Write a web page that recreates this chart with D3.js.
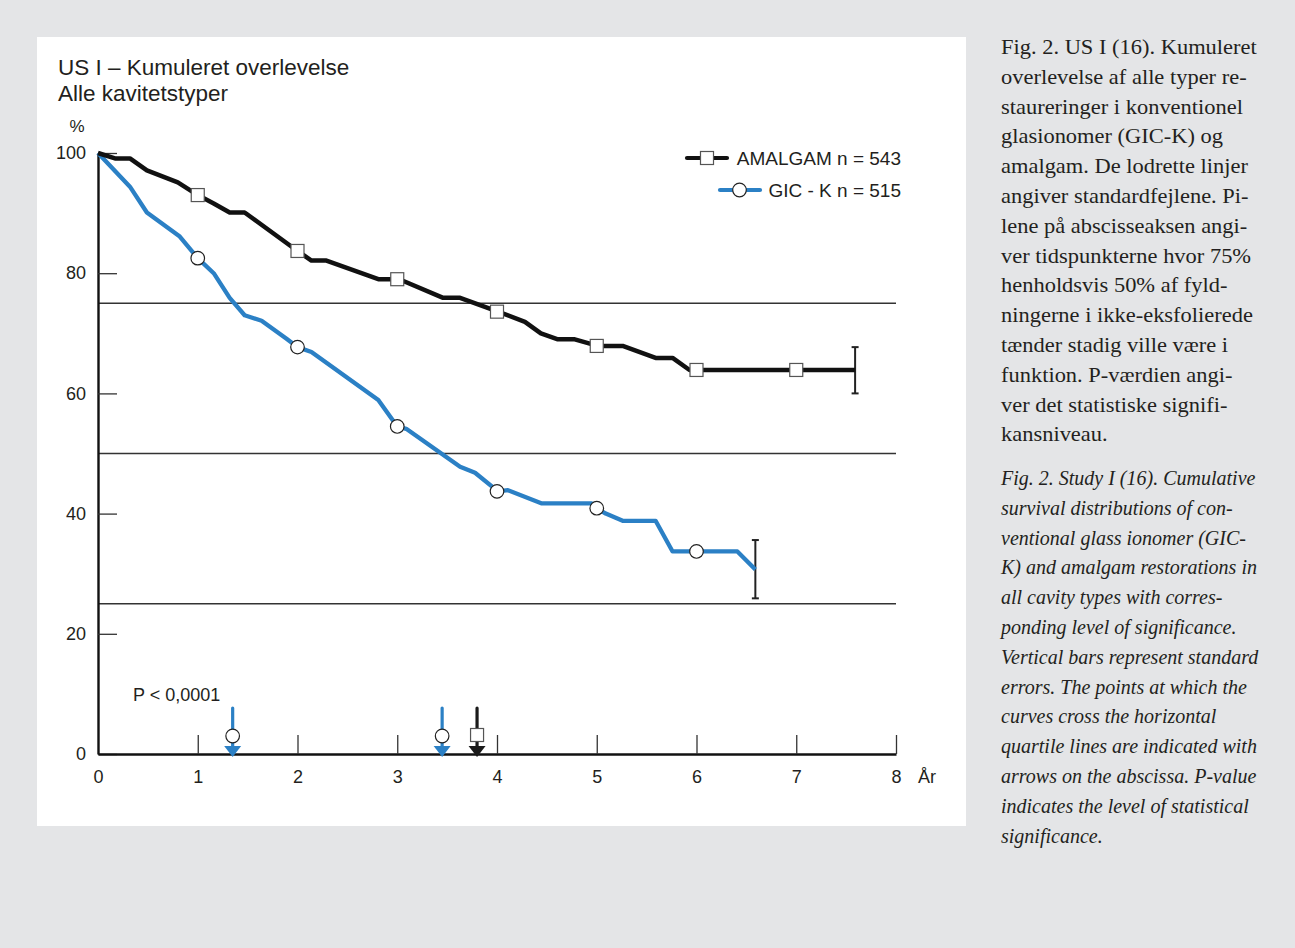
<!DOCTYPE html>
<html>
<head>
<meta charset="utf-8">
<script src="https://cdn.jsdelivr.net/npm/d3@7"></script>
<style>
  body { margin: 0; background: #e4e5e7; }
  svg { display: block; }
  .sans { font-family: "Liberation Sans", Arial, Helvetica, sans-serif; fill: #231f20; }
  .serif { font-family: "Liberation Serif", "Times New Roman", serif; fill: #231f20; }
</style>
</head>
<body>
<svg id="chart" width="1295" height="948"></svg>
<script>
// kaplan-meier style curves (years, % surviving)
var amalgamYears = [0, 0.17, 0.32, 0.49, 0.8, 1, 1.16, 1.32, 1.47, 2, 2.14, 2.29, 2.81, 3.02, 3.46, 3.63, 4.01, 4.28, 4.44, 4.61, 4.78, 5.01, 5.26, 5.59, 5.76, 5.93, 7.59];
var amalgamSurv  = [100, 99.1, 99.1, 97.1, 95.1, 93, 91.6, 90.1, 90.1, 83.7, 82.1, 82.1, 79, 79, 75.9, 75.9, 73.6, 71.9, 70, 69, 69, 67.9, 67.9, 65.9, 65.9, 63.9, 63.9];
var gicYears = [0, 0.32, 0.49, 0.82, 1, 1.16, 1.32, 1.47, 1.64, 1.89, 2, 2.14, 2.81, 3, 3.09, 3.63, 3.78, 4.01, 4.11, 4.45, 4.95, 5, 5.09, 5.26, 5.59, 5.76, 6, 6.41, 6.59];
var gicSurv  = [100, 94.4, 90.1, 86.1, 82.5, 80, 75.9, 73, 72.1, 69.1, 67.7, 66.9, 58.9, 54.5, 54.1, 47.8, 46.8, 43.7, 43.9, 41.7, 41.7, 40.9, 40, 38.8, 38.8, 33.7, 33.7, 33.7, 30.7];

var amalgamMarkYears = [1, 2, 3, 4, 5, 6, 7];
var amalgamMarkSurv  = [93, 83.7, 79, 73.6, 67.9, 63.9, 63.9];
var gicMarkYears = [1, 2, 3, 4, 5, 6];
var gicMarkSurv  = [82.5, 67.7, 54.5, 43.7, 40.9, 33.7];

// standard error bars at curve ends: [year, low, high]
var errorBars = [[7.59, 60.0, 67.7], [6.59, 25.9, 35.6]];
var quartileLines = [75, 50, 25];
// arrows on the abscissa where curves cross quartile lines
var arrowYears  = [1.35, 3.45, 3.80];
var arrowSeries = ["gic", "gic", "amalgam"];

var xTicks = [0, 1, 2, 3, 4, 5, 6, 7, 8];
var yTicks = [0, 20, 40, 60, 80, 100];

var legendLabels = ["AMALGAM n = 543", "GIC - K n = 515"];
var titleLines = ["US I \u2013 Kumuleret overlevelse", "Alle kavitetstyper"];

var captionDa = [
  "Fig. 2. US I (16). Kumuleret",
  "overlevelse af alle typer re-",
  "staureringer i konventionel",
  "glasionomer (GIC-K) og",
  "amalgam. De lodrette linjer",
  "angiver standardfejlene. Pi-",
  "lene p\u00e5 abscisseaksen angi-",
  "ver tidspunkterne hvor 75%",
  "henholdsvis 50% af fyld-",
  "ningerne i ikke-eksfolierede",
  "t\u00e6nder stadig ville v\u00e6re i",
  "funktion. P-v\u00e6rdien angi-",
  "ver det statistiske signifi-",
  "kansniveau."
];
var captionEn = [
  "Fig. 2. Study I (16). Cumulative",
  "survival distributions of con-",
  "ventional glass ionomer (GIC-",
  "K) and amalgam restorations in",
  "all cavity types with corres-",
  "ponding level of significance.",
  "Vertical bars represent standard",
  "errors. The points at which the",
  "curves cross the horizontal",
  "quartile lines are indicated with",
  "arrows on the abscissa. P-value",
  "indicates the level of statistical",
  "significance."
];

var blue = "#2b80c5";
var black = "#111";

var svg = d3.select("#chart");

// white chart panel
svg.append("rect")
    .attr("x", 37).attr("y", 37)
    .attr("width", 929).attr("height", 789)
    .attr("fill", "#fff");

var xScale = d3.scaleLinear().domain([0, 8]).range([98, 896]);
var yScale = d3.scaleLinear().domain([0, 100]).range([754, 153]);

// titles
svg.selectAll(".title")
    .data(titleLines)
    .enter()
    .append("text")
    .attr("class", "sans")
    .attr("x", 58)
    .attr("y", function (d, i) { return 75 + i * 26; })
    .attr("font-size", "22.5px")
    .text(function (d) { return d; });

svg.append("text")
    .attr("class", "sans")
    .attr("x", 77).attr("y", 132)
    .attr("text-anchor", "middle")
    .attr("font-size", "17px")
    .text("%");

// quartile reference lines
svg.selectAll(".quart")
    .data(quartileLines)
    .enter()
    .append("line")
    .attr("x1", xScale(0)).attr("x2", xScale(8))
    .attr("y1", function (d) { return yScale(d); })
    .attr("y2", function (d) { return yScale(d); })
    .attr("stroke", "#333")
    .attr("stroke-width", 1.3);

// axes
var yAxis = d3.axisLeft(yScale)
    .tickValues(yTicks)
    .tickSizeInner(-19)
    .tickSizeOuter(0)
    .tickPadding(12);
var gy = svg.append("g")
    .attr("transform", "translate(" + xScale(0) + ",0)")
    .call(yAxis);

var xAxis = d3.axisBottom(xScale)
    .tickValues(xTicks)
    .tickSizeInner(-19)
    .tickSizeOuter(0)
    .tickPadding(16);
var gx = svg.append("g")
    .attr("transform", "translate(0," + yScale(0) + ")")
    .call(xAxis);

[gx, gy].forEach(function (g) {
    g.attr("font-size", null).attr("font-family", null);
    g.select(".domain").attr("stroke", "#111").attr("stroke-width", 2.4);
    g.selectAll(".tick line").attr("stroke", "#333").attr("stroke-width", 1.3);
    g.selectAll(".tick text")
        .attr("class", "sans")
        .attr("fill", "#231f20")
        .style("font-size", "18px");
});
gx.selectAll(".tick").filter(function (d) { return d === 0; }).select("line").remove();

svg.append("text")
    .attr("class", "sans")
    .attr("x", 918).attr("y", 783)
    .attr("font-size", "18px")
    .text("\u00c5r");

// curves
var line = d3.line()
    .x(function (d) { return xScale(d[0]); })
    .y(function (d) { return yScale(d[1]); });

var amalgamData = amalgamYears.map(function (t, i) { return [t, amalgamSurv[i]]; });
var gicData = gicYears.map(function (t, i) { return [t, gicSurv[i]]; });

// error bars
var bars = svg.selectAll(".err")
    .data(errorBars)
    .enter()
    .append("g")
    .attr("stroke", "#222")
    .attr("stroke-width", 2);
bars.append("line")
    .attr("x1", function (d) { return xScale(d[0]); })
    .attr("x2", function (d) { return xScale(d[0]); })
    .attr("y1", function (d) { return yScale(d[1]); })
    .attr("y2", function (d) { return yScale(d[2]); });
bars.append("line")
    .attr("x1", function (d) { return xScale(d[0]) - 3.5; })
    .attr("x2", function (d) { return xScale(d[0]) + 3.5; })
    .attr("y1", function (d) { return yScale(d[1]); })
    .attr("y2", function (d) { return yScale(d[1]); });
bars.append("line")
    .attr("x1", function (d) { return xScale(d[0]) - 3.5; })
    .attr("x2", function (d) { return xScale(d[0]) + 3.5; })
    .attr("y1", function (d) { return yScale(d[2]); })
    .attr("y2", function (d) { return yScale(d[2]); });

svg.append("path")
    .datum(gicData)
    .attr("d", line)
    .attr("fill", "none")
    .attr("stroke", blue)
    .attr("stroke-width", 4.3)
    .attr("stroke-linejoin", "round");

svg.append("path")
    .datum(amalgamData)
    .attr("d", line)
    .attr("fill", "none")
    .attr("stroke", black)
    .attr("stroke-width", 4.5)
    .attr("stroke-linejoin", "round");

function drawSquare(sel, cx, cy) {
    sel.append("rect")
        .attr("x", cx - 6.5).attr("y", cy - 6.5)
        .attr("width", 13).attr("height", 13)
        .attr("fill", "#fff")
        .attr("stroke", "#555")
        .attr("stroke-width", 1.2);
}
function drawCircle(sel, cx, cy) {
    sel.append("circle")
        .attr("cx", cx).attr("cy", cy).attr("r", 6.8)
        .attr("fill", "#fff")
        .attr("stroke", "#222")
        .attr("stroke-width", 1.2);
}

amalgamMarkYears.forEach(function (t, i) {
    drawSquare(svg, xScale(t), yScale(amalgamMarkSurv[i]));
});
gicMarkYears.forEach(function (t, i) {
    drawCircle(svg, xScale(t), yScale(gicMarkSurv[i]));
});

// arrows at the abscissa
arrowYears.forEach(function (t, i) {
    var cx = xScale(t);
    var col = arrowSeries[i] === "gic" ? blue : "#1a1a1a";
    var g = svg.append("g");
    g.append("line")
        .attr("x1", cx).attr("x2", cx)
        .attr("y1", 708).attr("y2", 748)
        .attr("stroke", col)
        .attr("stroke-width", 3.2)
        .attr("stroke-linecap", "round");
    g.append("path")
        .attr("d", "M" + (cx - 8.5) + ",746 L" + (cx + 8.5) + ",746 L" + cx + ",757 Z")
        .attr("fill", col);
    if (arrowSeries[i] === "gic") drawCircle(g, cx, 736);
    else drawSquare(g, cx, 735);
});

svg.append("text")
    .attr("class", "sans")
    .attr("x", 133).attr("y", 701)
    .attr("font-size", "18px")
    .text("P < 0,0001");

// legend
var legend = svg.append("g");
legend.append("line")
    .attr("x1", 687).attr("x2", 727).attr("y1", 158).attr("y2", 158)
    .attr("stroke", black).attr("stroke-width", 4.2).attr("stroke-linecap", "round");
drawSquare(legend, 707, 158);
legend.append("line")
    .attr("x1", 720).attr("x2", 760).attr("y1", 190).attr("y2", 190)
    .attr("stroke", blue).attr("stroke-width", 4.2).attr("stroke-linecap", "round");
drawCircle(legend, 739.5, 190);
legend.selectAll(".lt")
    .data(legendLabels)
    .enter()
    .append("text")
    .attr("class", "sans")
    .attr("x", 901)
    .attr("y", function (d, i) { return 165 + i * 32; })
    .attr("text-anchor", "end")
    .attr("font-size", "19px")
    .text(function (d) { return d; });

// captions on the right (roman block stretched a little to the book face width)
svg.append("g")
    .attr("transform", "translate(1001,0) scale(1.07,1)")
    .selectAll(".capDa")
    .data(captionDa)
    .enter()
    .append("text")
    .attr("class", "serif")
    .attr("x", 0)
    .attr("y", function (d, i) { return 54 + i * 29.8; })
    .attr("font-size", "21px")
    .text(function (d) { return d; });

svg.selectAll(".capEn")
    .data(captionEn)
    .enter()
    .append("text")
    .attr("class", "serif")
    .attr("x", 1001)
    .attr("y", function (d, i) { return 485 + i * 29.8; })
    .attr("font-size", "20px")
    .attr("font-style", "italic")
    .text(function (d) { return d; });
</script>
</body>
</html>
